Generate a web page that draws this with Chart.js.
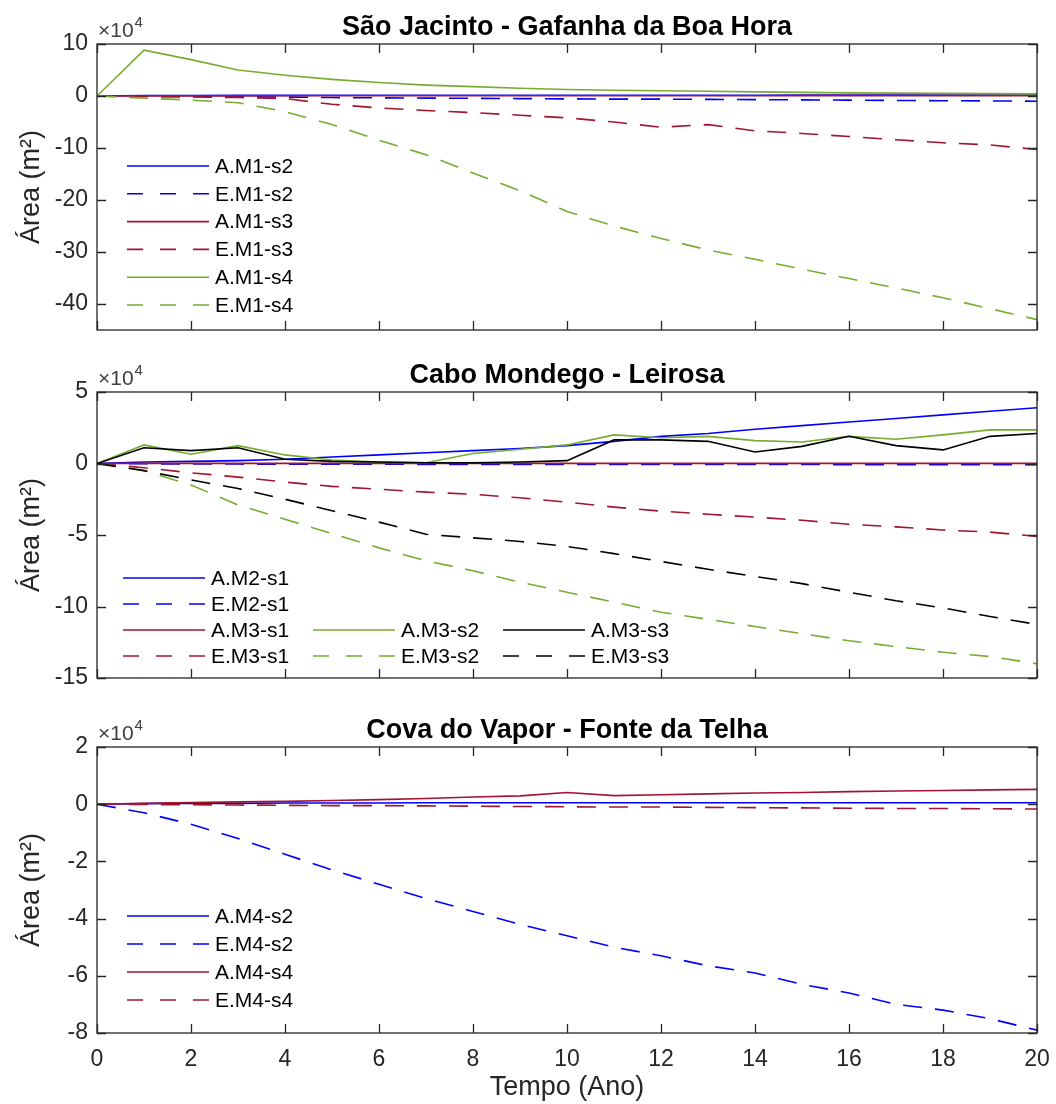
<!DOCTYPE html>
<html>
<head>
<meta charset="utf-8">
<title>Área - M1 a M4</title>
<script src="https://cdn.jsdelivr.net/npm/chart.js"></script>
<style>
  body { margin: 0; background: #fff; }
  .painel { position: absolute; left: 0; }
</style>
</head>
<body>
<canvas class="painel" id="g1" width="1056" height="350" style="top:0"></canvas>
<canvas class="painel" id="g2" width="1056" height="350" style="top:350px"></canvas>
<canvas class="painel" id="g3" width="1056" height="404" style="top:700px"></canvas>
<script>
// valores em x10^4 m2, um por ano
const anos = [0, 1, 2, 3, 4, 5, 6, 7, 8, 9, 10, 11, 12, 13, 14, 15, 16, 17, 18, 19, 20];
const xTicks = [0, 2, 4, 6, 8, 10, 12, 14, 16, 18, 20];
const yTicks1 = [-40, -30, -20, -10, 0, 10];
const yTicks2 = [-15, -10, -5, 0, 5];
const yTicks3 = [-8, -6, -4, -2, 0, 2];

// São Jacinto - Gafanha da Boa Hora
const aM1s2 = [0, 0.1, 0.1, 0.12, 0.12, 0.13, 0.13, 0.13, 0.14, 0.14, 0.14, 0.15, 0.15, 0.15, 0.15, 0.16, 0.16, 0.16, 0.16, 0.17, 0.17];
const eM1s2 = [0, -0.05, -0.1, -0.15, -0.2, -0.3, -0.35, -0.4, -0.45, -0.5, -0.55, -0.6, -0.6, -0.65, -0.7, -0.75, -0.8, -0.85, -0.9, -0.95, -1.0];
const aM1s3 = [0, 0.02, 0.03, 0.03, 0.04, 0.04, 0.05, 0.05, 0.05, 0.05, 0.06, 0.06, 0.06, 0.06, 0.06, 0.07, 0.07, 0.07, 0.07, 0.07, 0.07];
const eM1s3 = [0, -0.1, -0.2, -0.3, -0.5, -1.6, -2.3, -2.8, -3.2, -3.7, -4.2, -5.0, -6.0, -5.5, -6.7, -7.2, -7.8, -8.4, -9.0, -9.4, -10.3];
const aM1s4 = [0, 8.8, 7.0, 5.0, 4.0, 3.2, 2.6, 2.1, 1.8, 1.5, 1.25, 1.1, 1.0, 0.9, 0.8, 0.7, 0.6, 0.55, 0.5, 0.45, 0.4];
const eM1s4 = [0, -0.4, -0.8, -1.3, -3.0, -5.5, -8.5, -11.3, -14.8, -18.2, -22.2, -25.0, -27.4, -29.6, -31.4, -33.3, -35.1, -36.9, -38.8, -40.9, -43.0];

// Cabo Mondego - Leirosa
const aM2s1 = [0, 0.1, 0.15, 0.2, 0.3, 0.45, 0.6, 0.75, 0.9, 1.05, 1.25, 1.55, 1.9, 2.1, 2.4, 2.65, 2.9, 3.15, 3.4, 3.65, 3.9];
const eM2s1 = [0, -0.02, -0.03, -0.04, -0.05, -0.05, -0.05, -0.06, -0.06, -0.06, -0.06, -0.07, -0.07, -0.07, -0.07, -0.07, -0.08, -0.08, -0.08, -0.08, -0.08];
const aM3s1 = [0, 0.01, 0.01, 0.01, 0.01, 0.01, 0.01, 0.01, 0.01, 0.01, 0.01, 0.01, 0.01, 0.01, 0.01, 0.01, 0.01, 0.01, 0.01, 0.01, 0.01];
const eM3s1 = [0, -0.3, -0.65, -0.95, -1.3, -1.6, -1.8, -2.0, -2.15, -2.4, -2.7, -3.05, -3.33, -3.55, -3.75, -3.97, -4.25, -4.43, -4.65, -4.8, -5.1];
const aM3s2 = [0, 1.3, 0.65, 1.25, 0.6, 0.25, 0.1, 0.05, 0.7, 1.0, 1.3, 2.0, 1.8, 1.9, 1.6, 1.5, 1.9, 1.7, 2.0, 2.35, 2.35];
const eM3s2 = [0, -0.5, -1.5, -2.9, -3.9, -4.9, -5.9, -6.8, -7.5, -8.3, -9.0, -9.7, -10.4, -10.9, -11.4, -11.9, -12.4, -12.8, -13.2, -13.5, -14.0];
const aM3s3 = [0, 1.1, 0.9, 1.1, 0.3, 0.15, 0.1, 0.05, 0.05, 0.1, 0.2, 1.65, 1.65, 1.55, 0.8, 1.2, 1.9, 1.25, 0.95, 1.9, 2.1];
const eM3s3 = [0, -0.5, -1.15, -1.75, -2.5, -3.3, -4.1, -4.95, -5.2, -5.45, -5.8, -6.3, -6.85, -7.4, -7.9, -8.4, -9.0, -9.6, -10.1, -10.7, -11.25];

// Cova do Vapor - Fonte da Telha
const aM4s2 = [0, 0.02, 0.03, 0.03, 0.04, 0.04, 0.04, 0.05, 0.05, 0.05, 0.05, 0.05, 0.05, 0.05, 0.05, 0.05, 0.05, 0.05, 0.05, 0.05, 0.05];
const eM4s2 = [0, -0.3, -0.7, -1.2, -1.75, -2.3, -2.8, -3.3, -3.75, -4.2, -4.6, -5.0, -5.3, -5.65, -5.9, -6.3, -6.6, -7.0, -7.2, -7.5, -7.9];
const aM4s4 = [0, 0.03, 0.06, 0.08, 0.1, 0.13, 0.16, 0.2, 0.25, 0.29, 0.41, 0.3, 0.33, 0.36, 0.39, 0.41, 0.44, 0.46, 0.48, 0.5, 0.52];
const eM4s4 = [0, -0.01, -0.02, -0.03, -0.04, -0.05, -0.05, -0.06, -0.07, -0.08, -0.09, -0.1, -0.1, -0.11, -0.12, -0.13, -0.14, -0.15, -0.15, -0.16, -0.17];

const FONTE = '"Liberation Sans", Arial, sans-serif';
const AZUL = '#0000ff', VERMELHO = '#a2142f', VERDE = '#77ac30', PRETO = '#000000';
const TRACO = [19, 13];

Chart.defaults.font.family = FONTE;
Chart.defaults.color = '#262626';

function serie(label, valores, cor, tracejado, slot) {
    return {
        label: label,
        data: anos.map((t, i) => ({ x: t, y: valores[i] })),
        borderColor: cor,
        borderWidth: 1.6,
        borderDash: tracejado ? TRACO : [],
        pointRadius: 0,
        fill: false,
        tension: 0,
        slot: slot
    };
}

// caixa, ticks para dentro, titulo, x10^4 e legenda
const moldura = {
    id: 'moldura',
    afterDraw(chart) {
        const o = chart.options.plugins.moldura;
        const ctx = chart.ctx;
        const a = chart.chartArea;
        const x = chart.scales.x, y = chart.scales.y;
        ctx.save();
        ctx.strokeStyle = '#262626';
        ctx.lineWidth = 1.3;
        ctx.setLineDash([]);
        ctx.strokeRect(a.left, a.top, a.right - a.left, a.bottom - a.top);
        ctx.beginPath();
        xTicks.forEach(v => {
            const px = Math.round(x.getPixelForValue(v)) + 0.5;
            ctx.moveTo(px, a.bottom); ctx.lineTo(px, a.bottom - 9);
            ctx.moveTo(px, a.top); ctx.lineTo(px, a.top + 9);
        });
        o.yTicks.forEach(v => {
            const py = Math.round(y.getPixelForValue(v)) + 0.5;
            ctx.moveTo(a.left, py); ctx.lineTo(a.left + 9, py);
            ctx.moveTo(a.right, py); ctx.lineTo(a.right - 9, py);
        });
        ctx.stroke();

        // titulo
        ctx.fillStyle = '#000';
        ctx.font = 'bold 27px ' + FONTE;
        ctx.textAlign = 'center';
        ctx.textBaseline = 'alphabetic';
        ctx.fillText(o.titulo, (a.left + a.right) / 2, a.top - 9);

        // x10^4
        ctx.fillStyle = '#404040';
        ctx.textAlign = 'left';
        ctx.font = '21px ' + FONTE;
        ctx.fillText('×10', a.left + 1, a.top - 7);
        const w = ctx.measureText('×10').width;
        ctx.font = '15px ' + FONTE;
        ctx.fillText('4', a.left + w + 2, a.top - 17);

        // legenda
        const L = o.legenda;
        ctx.font = '21px ' + FONTE;
        ctx.textBaseline = 'middle';
        chart.data.datasets.forEach(ds => {
            const lx = a.left + L.x0 + ds.slot[0] * L.col;
            const ly = a.top + L.y0 + ds.slot[1] * L.row;
            ctx.strokeStyle = ds.borderColor;
            ctx.lineWidth = 1.6;
            ctx.setLineDash(ds.borderDash.length ? [16, 17] : []);
            ctx.beginPath();
            ctx.moveTo(lx, ly); ctx.lineTo(lx + 82, ly);
            ctx.stroke();
            ctx.fillStyle = '#000';
            ctx.fillText(ds.label, lx + 88, ly + 1);
        });
        ctx.restore();
    }
};

function painel(id, cfg) {
    return new Chart(document.getElementById(id), {
        type: 'line',
        data: { datasets: cfg.series.map((s, i) => Object.assign(s, { order: -i })) },
        options: {
            responsive: false,
            animation: false,
            events: [],
            layout: { padding: cfg.padding, autoPadding: false },
            plugins: {
                legend: { display: false },
                tooltip: { enabled: false },
                moldura: { titulo: cfg.titulo, yTicks: cfg.yTicks, legenda: cfg.legenda }
            },
            scales: {
                x: {
                    type: 'linear',
                    min: 0,
                    max: 20,
                    afterBuildTicks: s => { s.ticks = xTicks.map(v => ({ value: v })); },
                    afterFit: s => { s.height = cfg.alturaX; s.paddingLeft = 0; s.paddingRight = 0; },
                    grid: { display: false, drawTicks: false },
                    border: { display: false },
                    ticks: { display: cfg.rotulosX, font: { size: 23 }, padding: 13, maxRotation: 0 },
                    title: { display: cfg.rotulosX, text: 'Tempo (Ano)', font: { size: 27 }, color: '#262626', padding: { top: 0, bottom: 0 } }
                },
                y: {
                    min: cfg.yMin,
                    max: cfg.yMax,
                    afterBuildTicks: s => { s.ticks = cfg.yTicks.map(v => ({ value: v })); },
                    afterFit: s => { s.width = 97; s.paddingTop = 0; s.paddingBottom = 0; },
                    grid: { display: false, drawTicks: false },
                    border: { display: false },
                    ticks: { font: { size: 23 }, padding: 9 },
                    title: { display: true, text: 'Área (m²)', font: { size: 27 }, color: '#262626', padding: { top: 15, bottom: 0 } }
                }
            }
        },
        plugins: [moldura]
    });
}

painel('g1', {
    titulo: 'São Jacinto - Gafanha da Boa Hora',
    yMin: -45, yMax: 10, yTicks: yTicks1,
    padding: { left: 0, right: 19, top: 44, bottom: 20 },
    alturaX: 0, rotulosX: false,
    legenda: { x0: 30, y0: 122, row: 27.8, col: 190 },
    series: [
        serie('A.M1-s2', aM1s2, AZUL, false, [0, 0]),
        serie('E.M1-s2', eM1s2, AZUL, true, [0, 1]),
        serie('A.M1-s3', aM1s3, VERMELHO, false, [0, 2]),
        serie('E.M1-s3', eM1s3, VERMELHO, true, [0, 3]),
        serie('A.M1-s4', aM1s4, VERDE, false, [0, 4]),
        serie('E.M1-s4', eM1s4, VERDE, true, [0, 5])
    ]
});

painel('g2', {
    titulo: 'Cabo Mondego - Leirosa',
    yMin: -15, yMax: 5, yTicks: yTicks2,
    padding: { left: 0, right: 19, top: 42, bottom: 22 },
    alturaX: 0, rotulosX: false,
    legenda: { x0: 26, y0: 186, row: 26, col: 190 },
    series: [
        serie('A.M2-s1', aM2s1, AZUL, false, [0, 0]),
        serie('E.M2-s1', eM2s1, AZUL, true, [0, 1]),
        serie('A.M3-s1', aM3s1, VERMELHO, false, [0, 2]),
        serie('E.M3-s1', eM3s1, VERMELHO, true, [0, 3]),
        serie('A.M3-s2', aM3s2, VERDE, false, [1, 2]),
        serie('E.M3-s2', eM3s2, VERDE, true, [1, 3]),
        serie('A.M3-s3', aM3s3, PRETO, false, [2, 2]),
        serie('E.M3-s3', eM3s3, PRETO, true, [2, 3])
    ]
});

painel('g3', {
    titulo: 'Cova do Vapor - Fonte da Telha',
    yMin: -8, yMax: 2, yTicks: yTicks3,
    padding: { left: 0, right: 19, top: 47, bottom: 0 },
    alturaX: 71, rotulosX: true,
    legenda: { x0: 30, y0: 169, row: 28, col: 190 },
    series: [
        serie('A.M4-s2', aM4s2, AZUL, false, [0, 0]),
        serie('E.M4-s2', eM4s2, AZUL, true, [0, 1]),
        serie('A.M4-s4', aM4s4, VERMELHO, false, [0, 2]),
        serie('E.M4-s4', eM4s4, VERMELHO, true, [0, 3])
    ]
});
</script>
</body>
</html>
